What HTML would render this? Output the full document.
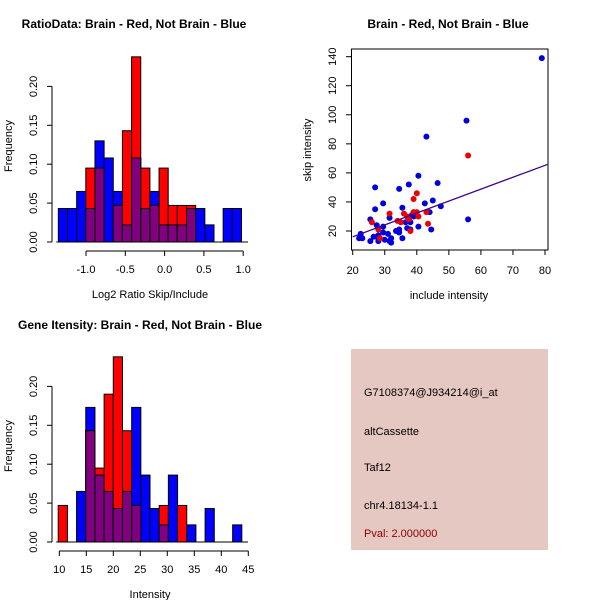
<!DOCTYPE html>
<html><head><meta charset="utf-8"><style>
body{margin:0;background:#fff}
svg{display:block;font-family:"Liberation Sans",Arial,sans-serif}
</style></head><body>
<svg id="c" width="600" height="600" viewBox="0 0 600 600" xmlns="http://www.w3.org/2000/svg">
<rect x="351" y="349" width="197" height="201" fill="#e6c8c2"/>
<g font-size="11" fill="#000">
<text x="364" y="396">G7108374@J934214@i_at</text>
<text x="364" y="435">altCassette</text>
<text x="364" y="471">Taf12</text>
<text x="364" y="509">chr4.18134-1.1</text>
<text x="364" y="537" fill="#8b0000">Pval: 2.000000</text>
</g>
</svg>
<script>
// ---- Ratio histogram data ----
const ratioBinStart = -1.352;
const ratioBinWidth = 0.1165;
const ratioBlue = [0.043,0.043,0.065,0.043,0.13,0.108,0.065,0.022,0.108,0.043,0.065,0.022,0.022,0.022,0.043,0.043,0.022,0,0.043,0.043];
const ratioRed  = [0,0,0,0.095,0.095,0,0.047,0.143,0.238,0.095,0.047,0.095,0.047,0.047,0.047,0,0,0,0,0];
const ratioXTicks = [-1.0,-0.5,0.0,0.5,1.0];
const ratioXTickLabels = ["-1.0","-0.5","0.0","0.5","1.0"];
const freqTicks = [0,0.05,0.10,0.15,0.20];
const freqTickLabels = ["0.00","0.05","0.10","0.15","0.20"];
// ---- Intensity histogram data ----
const intBinStart = 9.8;
const intBinWidth = 1.70;
const intBlue = [0,0,0.065,0.173,0.086,0.065,0.043,0.065,0.173,0.086,0.043,0.022,0.086,0,0.022,0,0.043,0,0,0.022];
const intRed  = [0.047,0,0,0.143,0.095,0.19,0.238,0.143,0.047,0,0,0.047,0,0.047,0,0,0,0,0,0];
const intXTicks = [10,15,20,25,30,35,40,45];
const intXTickLabels = ["10","15","20","25","30","35","40","45"];
// ---- Scatter data ----
const blueX = [79,55.5,43,56,27,37.5,34.5,40.5,46.5,42.5,45,47.5,44,29.5,27,35.5,38.5,39,40.5,44.5,25.5,27.5,29.5,31.5,36.5,38,37,38,33.5,34.5,34.5,35.5,22.5,22,23,25.5,26.5,27.5,28,28,29.5,30,31,31.5,32,32];
const blueY = [139,96,85,28,50,52,49,58,53,39,41,37,33,39,35,36,31,30,23,21,28,24,23,29,26,26,22,21,20,21,19,15,18,15,15,13,16,16,17,13,19,14,18,13,15,12];
const redX = [56,39,40,31.5,36,39,40,40.5,43,43.5,37,37.5,34,35,38,26,28,28.5];
const redY = [72,42,46,32,32,33,33,30,33,25,30,28,27,26,20,26,21,15];
const fitLine = [[20,16],[81,66]];
const scXTicks = [20,30,40,50,60,70,80];
const scYTicks = [20,40,60,80,100,120,140];

const NS="http://www.w3.org/2000/svg";
const svg=document.getElementById('c');
function mk(tag,attrs,parent){const e=document.createElementNS(NS,tag);for(const k in attrs)e.setAttribute(k,attrs[k]);(parent||svg).appendChild(e);return e;}
function txt(x,y,s,attrs,parent){const e=mk('text',Object.assign({x:x,y:y},attrs||{}),parent);e.textContent=s;return e;}

function hist(o){
  const g=mk('g',{});
  
  
  const sx=v=>o.x0+(v-o.xv0)*o.kx, sy=v=>o.y0-v*o.ky;
  txt(o.titleX,o.titleY,o.title,{'font-size':12,'font-weight':'bold','text-anchor':'middle'},g);
  for(let i=0;i<o.blue.length;i++){
    const a=sx(o.start+i*o.w), b=sx(o.start+(i+1)*o.w);
    const layers=[[o.blue[i],'#0000ff','bar-blue'],[o.red[i],'#ff0000','bar-red'],[Math.min(o.blue[i],o.red[i]),'#800080','bar-overlap']];
    for(const [v,c,n] of layers){
      if(v<=0) continue;
      const r=mk('rect',{x:a,y:sy(v),width:b-a,height:sy(0)-sy(v),fill:c,stroke:'#000','stroke-width':1},g);
      
      
    }
  }
  mk('line',{x1:o.yAxisX,x2:o.yAxisX,y1:sy(o.yt[0]),y2:sy(o.yt[o.yt.length-1]),stroke:'#000'},g);
  o.yt.forEach((t,i)=>{const y=sy(t);mk('line',{x1:o.yAxisX-5,x2:o.yAxisX,y1:y,y2:y,stroke:'#000'},g);
    const lx=o.yAxisX-15;
    const tx=txt(lx,y,o.ytl[i],{'font-size':11,'text-anchor':'middle',transform:`rotate(-90 ${lx} ${y})`},g);
    });
  const xa=o.xAxisY;
  mk('line',{x1:sx(o.xt[0]),x2:sx(o.xt[o.xt.length-1]),y1:xa,y2:xa,stroke:'#000'},g);
  o.xt.forEach((t,i)=>{const x=sx(t);mk('line',{x1:x,x2:x,y1:xa,y2:xa+5,stroke:'#000'},g);
    const tx=txt(x,xa+22,o.xtl[i],{'font-size':11,'text-anchor':'middle'},g);});
  txt(o.xlabX,o.xlabY,o.xlab,{'font-size':11,'text-anchor':'middle'},g);
  txt(12,o.ylabY,'Frequency',{'font-size':11,'text-anchor':'middle',transform:`rotate(-90 12 ${o.ylabY})`},g);
  mk('line',{x1:sx(o.start)-2,x2:248,y1:sy(0),y2:sy(0),stroke:'#000'},g);
}
hist({name:'ratio-histogram',start:ratioBinStart,w:ratioBinWidth,blue:ratioBlue,red:ratioRed,
  x0:86,xv0:-1.0,kx:78.6,y0:242,ky:778,yAxisX:52,xAxisY:251,yt:freqTicks,ytl:freqTickLabels,xt:ratioXTicks,xtl:ratioXTickLabels,
  title:'RatioData: Brain - Red, Not Brain - Blue',titleX:134,titleY:28,xlab:'Log2 Ratio Skip/Include',xlabX:150,xlabY:298,ylabY:146});
hist({name:'intensity-histogram',start:intBinStart,w:intBinWidth,blue:intBlue,red:intRed,
  x0:59.3,xv0:10,kx:5.4,y0:542,ky:778,yAxisX:52,xAxisY:551,yt:freqTicks,ytl:freqTickLabels,xt:intXTicks,xtl:intXTickLabels,
  title:'Gene Itensity: Brain - Red, Not Brain - Blue',titleX:140,titleY:329,xlab:'Intensity',xlabX:150,xlabY:598,ylabY:446});

(function(){
  const g=mk('g',{});
  
  
  const sx=v=>352.7+(v-20)*3.205, sy=v=>231-(v-20)*1.4527;
  txt(448,28,'Brain - Red, Not Brain - Blue',{'font-size':12,'font-weight':'bold','text-anchor':'middle'},g);
  mk('rect',{x:351.5,y:49,width:196.5,height:201,fill:'none',stroke:'#000'},g);
  scXTicks.forEach(t=>{const x=sx(t);mk('line',{x1:x,x2:x,y1:250,y2:255,stroke:'#000'},g);
    txt(x,274,String(t),{'font-size':11,'text-anchor':'middle'},g);});
  scYTicks.forEach(t=>{const y=sy(t);mk('line',{x1:346,x2:351.5,y1:y,y2:y,stroke:'#000'},g);
    txt(336,y,String(t),{'font-size':11,'text-anchor':'middle',transform:`rotate(-90 336 ${y})`},g);});
  txt(449,299,'include intensity',{'font-size':11,'text-anchor':'middle'},g);
  txt(311,150,'skip intensity',{'font-size':11,'text-anchor':'middle',transform:'rotate(-90 311 150)'},g);
  blueX.forEach((v,i)=>{const c=mk('circle',{cx:sx(v),cy:sy(blueY[i]),r:3,fill:'#0000dd'},g);
    
    });
  redX.forEach((v,i)=>{const c=mk('circle',{cx:sx(v),cy:sy(redY[i]),r:3,fill:'#ee0000'},g);
    
    });
  const l=mk('line',{x1:sx(fitLine[0][0]),y1:sy(fitLine[0][1]),x2:sx(fitLine[1][0]),y2:sy(fitLine[1][1]),stroke:'#3a0090','stroke-width':1.3},g);
  
  
})();
</script>
</body></html>
